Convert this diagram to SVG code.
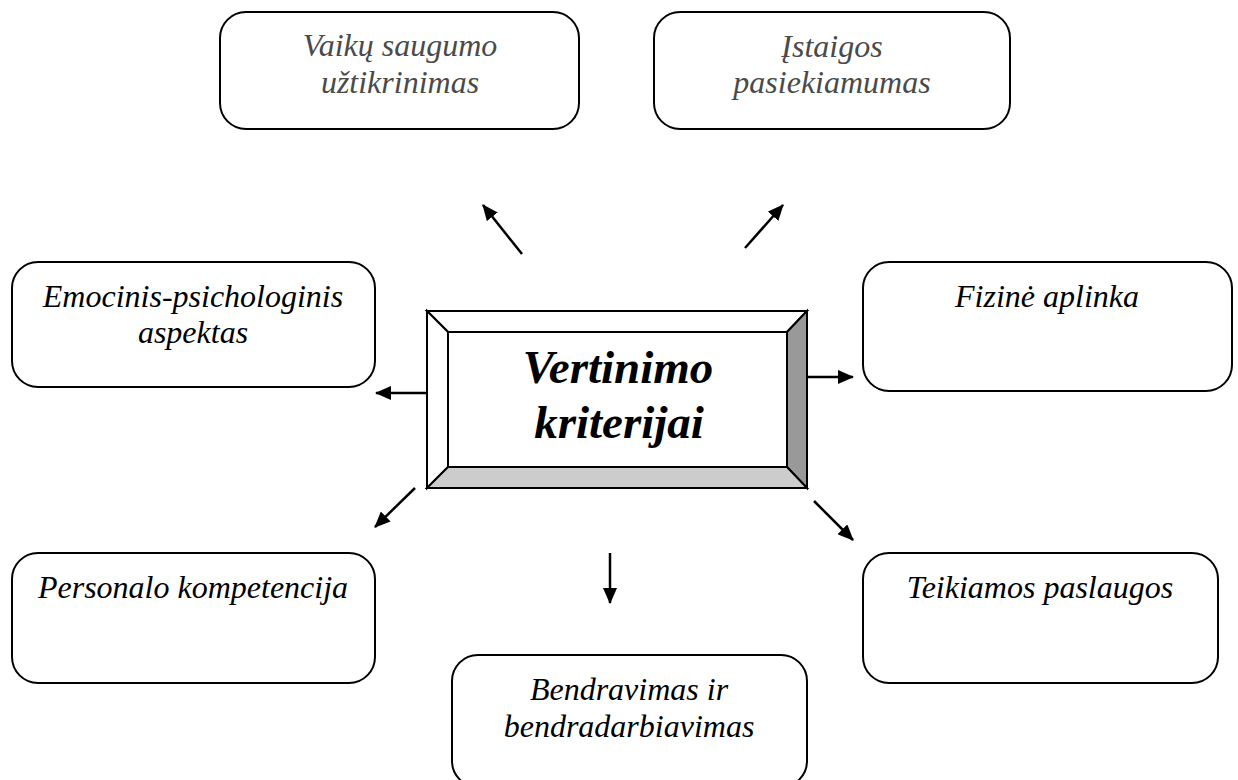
<svg xmlns="http://www.w3.org/2000/svg" width="1238" height="780" viewBox="0 0 1238 780">
<style>
.box{fill:#fff;stroke:#000;stroke-width:2}
.t{font-family:"Liberation Serif","Times New Roman",serif;font-style:italic;font-size:32px;text-anchor:middle;fill:#000}
.g{fill:#4a4a4a}
.c{font-family:"Liberation Serif","Times New Roman",serif;font-style:italic;font-weight:bold;font-size:47px;text-anchor:middle;fill:#000}
.bev{stroke:#000;stroke-width:2;stroke-linejoin:miter}
.ln{stroke:#000;stroke-width:2.5;fill:none;marker-end:url(#ah)}
</style>
<defs>
<marker id="ah" viewBox="0 0 16 14" refX="15" refY="7" markerWidth="16" markerHeight="14" markerUnits="userSpaceOnUse" orient="auto">
<path d="M0,0 L16,7 L0,14 Z" fill="#000"/>
</marker>
</defs>
<rect width="1238" height="780" fill="#fff"/>
<g id="connectors">
<line class="ln" x1="522" y1="254" x2="483" y2="205"/>
<line class="ln" x1="745" y1="248" x2="783" y2="205"/>
<line class="ln" x1="427" y1="393" x2="376" y2="393"/>
<line class="ln" x1="807" y1="377" x2="853" y2="377"/>
<line class="ln" x1="415" y1="488" x2="375" y2="527"/>
<line class="ln" x1="814" y1="501" x2="853" y2="540"/>
<line class="ln" x1="610" y1="553" x2="610" y2="603"/>
</g>
<g id="center">
<rect x="427" y="311" width="380" height="177" fill="#fff" stroke="#000" stroke-width="2"/>
<polygon class="bev" points="427,311 807,311 787,332 448,332" fill="#fff"/>
<polygon class="bev" points="427,311 448,332 448,467 427,488" fill="#fff"/>
<polygon class="bev" points="807,311 807,488 787,467 787,332" fill="#999"/>
<polygon class="bev" points="427,488 448,467 787,467 807,488" fill="#ccc"/>
<rect x="448" y="332" width="339" height="135" fill="#fff" stroke="#000" stroke-width="2"/>
<text class="c" x="618" y="383">Vertinimo</text>
<text class="c" x="619" y="438">kriterijai</text>
</g>
<g id="n-vaiku">
<rect class="box" x="220" y="12" width="359" height="117" rx="26"/>
<text class="t g" x="400" y="56">Vaikų saugumo</text>
<text class="t g" x="400" y="93">užtikrinimas</text>
</g>
<g id="n-istaigos">
<rect class="box" x="654" y="12" width="356" height="117" rx="26"/>
<text class="t g" x="832" y="57">Įstaigos</text>
<text class="t g" x="832" y="93">pasiekiamumas</text>
</g>
<g id="n-emocinis">
<rect class="box" x="12" y="262" width="363" height="125" rx="26"/>
<text class="t" x="193" y="307">Emocinis-psichologinis</text>
<text class="t" x="193" y="343">aspektas</text>
</g>
<g id="n-fizine">
<rect class="box" x="863" y="262" width="369" height="129" rx="26"/>
<text class="t" x="1047" y="307">Fizinė aplinka</text>
</g>
<g id="n-personalo">
<rect class="box" x="12" y="553" width="363" height="130" rx="26"/>
<text class="t" x="193" y="598">Personalo kompetencija</text>
</g>
<g id="n-teikiamos">
<rect class="box" x="863" y="553" width="355" height="130" rx="26"/>
<text class="t" x="1040" y="598">Teikiamos paslaugos</text>
</g>
<g id="n-bendravimas">
<rect class="box" x="452" y="655" width="355" height="132" rx="26"/>
<text class="t" x="629" y="700">Bendravimas ir</text>
<text class="t" x="629" y="737">bendradarbiavimas</text>
</g>
</svg>
